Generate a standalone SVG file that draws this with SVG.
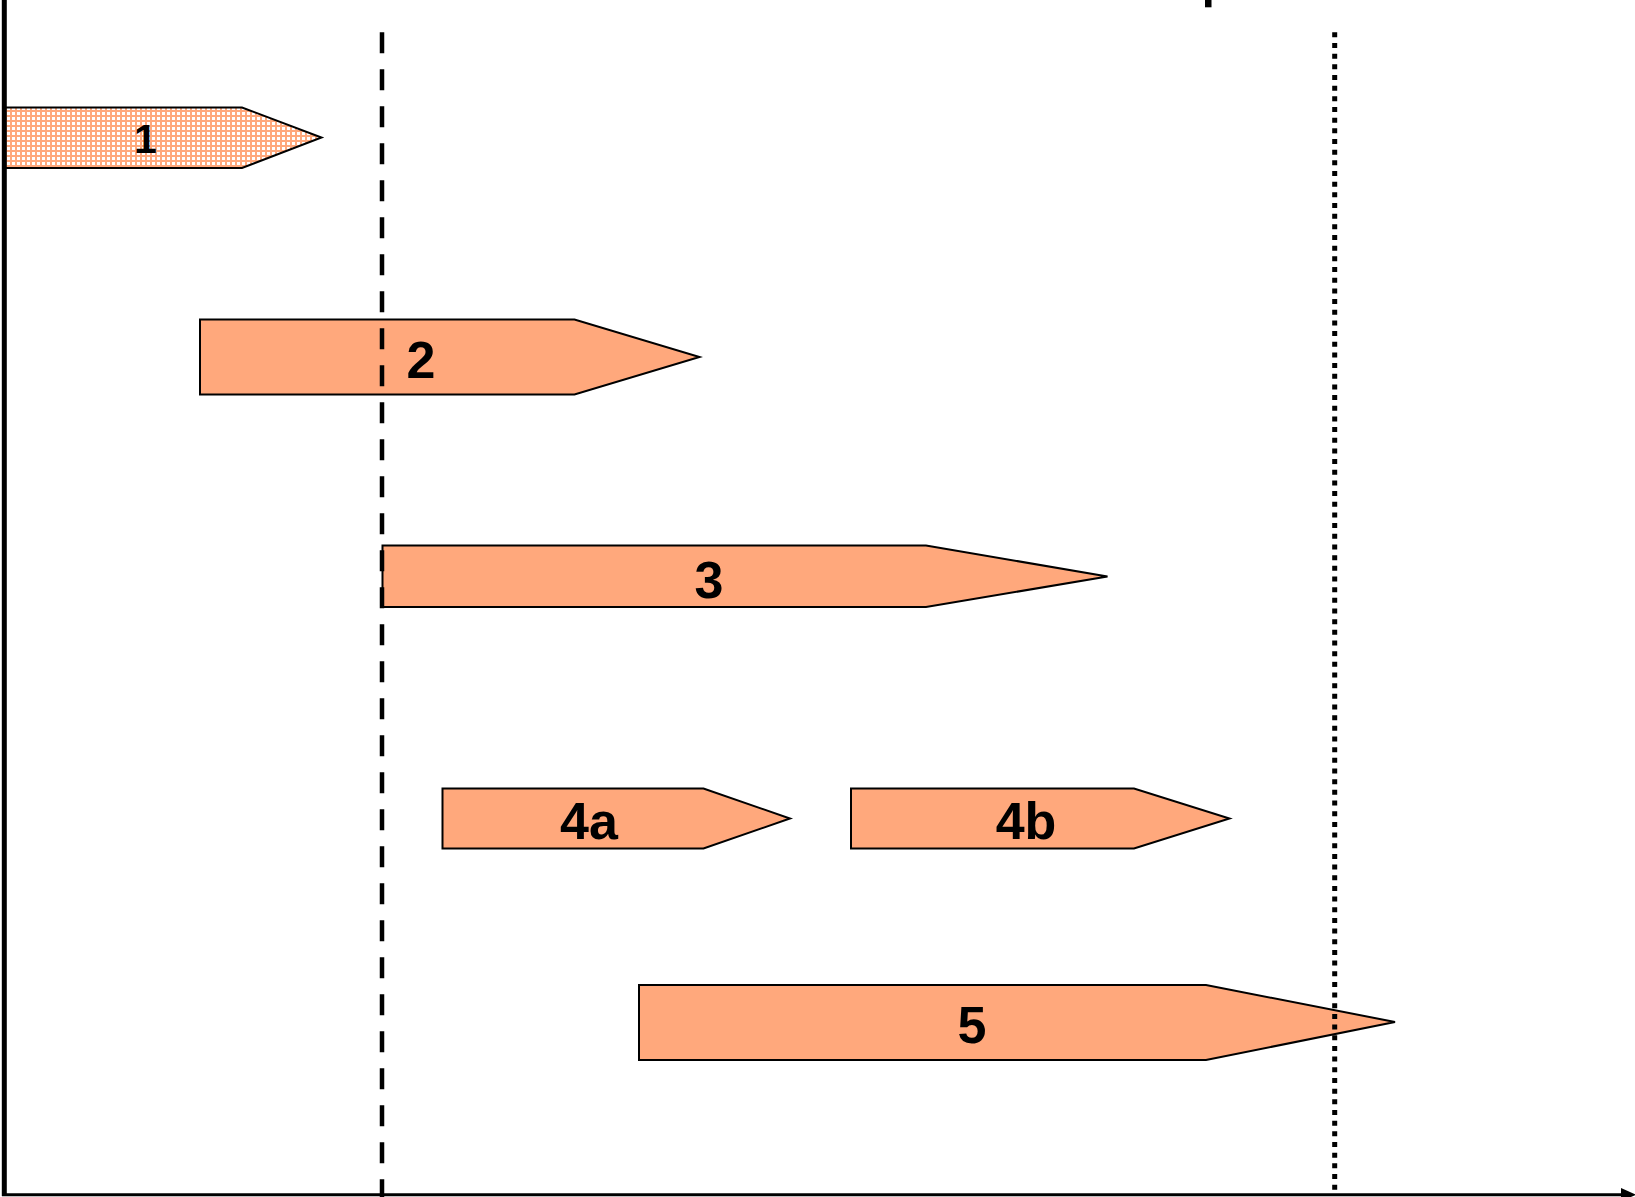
<svg xmlns="http://www.w3.org/2000/svg" width="1635" height="1197" viewBox="0 0 1635 1197">
  <defs>
    <pattern id="grid" x="0" y="0" width="5" height="5" patternUnits="userSpaceOnUse">
      <rect width="5" height="5" fill="#FFFFFF"/>
      <rect x="0" y="0" width="2" height="5" fill="#FFA87C"/>
      <rect x="0" y="0" width="5" height="2" fill="#FFA87C"/>
    </pattern>
  </defs>
  <style>
    .arrow { fill: #FFA87C; stroke: #000000; stroke-width: 2; stroke-linejoin: miter; }
    .pat { fill: url(#grid); stroke: #000000; stroke-width: 2; }
    .lbl { font-family: "Liberation Sans", Arial, sans-serif; font-weight: bold; font-size: 52px; fill: #000000; text-anchor: middle; }
    .axis { stroke: #000000; fill: none; }
  </style>
  <rect width="1635" height="1197" fill="#FFFFFF"/>

  <g id="node-1">
    <polygon class="pat" points="5,107.5 242,107.5 321.5,137.5 242,168 5,168"/>
    <text class="lbl" x="145.5" y="153.3" style="font-size:41px">1</text>
  </g>
  <g id="node-2">
    <polygon class="arrow" points="200,319.5 574.5,319.5 699.5,357 574.5,394.5 200,394.5"/>
    <text class="lbl" x="421" y="377.5">2</text>
  </g>
  <g id="node-3">
    <polygon class="arrow" points="382.5,545.5 926,545.5 1107.5,576.5 926,607 382.5,607"/>
    <text class="lbl" x="709" y="597.5">3</text>
  </g>
  <g id="node-4a">
    <polygon class="arrow" points="442.5,788.5 703.5,788.5 790,818.5 703.5,848.5 442.5,848.5"/>
    <text class="lbl" x="589" y="839.3">4a</text>
  </g>
  <g id="node-4b">
    <polygon class="arrow" points="851,788.5 1134,788.5 1229.5,818.5 1134,848.5 851,848.5"/>
    <text class="lbl" x="1026" y="839.3">4b</text>
  </g>
  <g id="node-5">
    <polygon class="arrow" points="639,985 1206,985 1395,1022 1206,1060 639,1060"/>
    <text class="lbl" x="972" y="1042.7">5</text>
  </g>

  <g id="connectors">
    <line class="axis" x1="382" y1="32.3" x2="382" y2="1197" stroke-width="4.5" stroke-dasharray="21 16"/>
    <line class="axis" x1="1334.7" y1="32.3" x2="1334.7" y2="1190" stroke-width="5" stroke-dasharray="5 5.67"/>
    <line class="axis" x1="4.3" y1="0" x2="4.3" y2="1196" stroke-width="5"/>
    <line class="axis" x1="2" y1="1194.7" x2="1624" y2="1194.7" stroke-width="3"/>
    <polygon points="1621,1188 1636,1194.7 1621,1201.4" fill="#000000"/>
    <rect x="1205" y="0" width="6.5" height="7.3" fill="#000000"/>
  </g>
</svg>
